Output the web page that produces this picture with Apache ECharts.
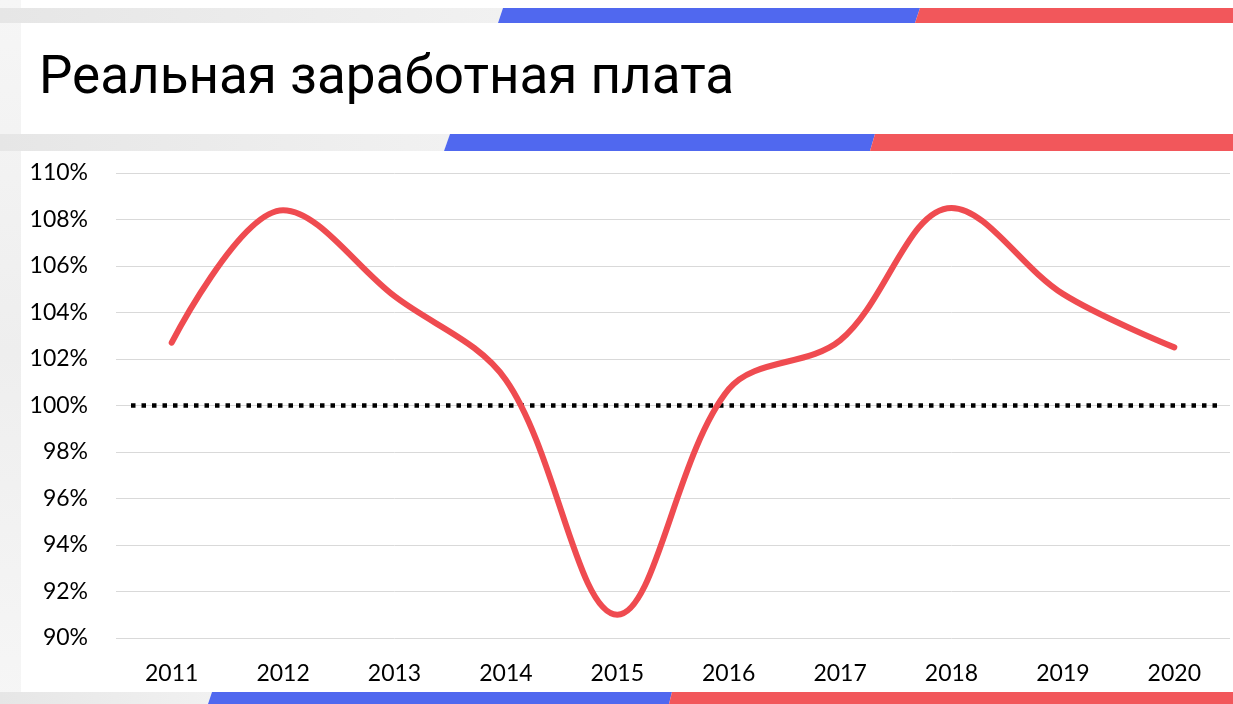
<!DOCTYPE html>
<html>
<head>
<meta charset="utf-8">
<script src="https://cdn.jsdelivr.net/npm/echarts@6/dist/echarts.min.js"></script>
<style>
  html, body { margin: 0; padding: 0; background: #fff; }
  #main { width: 1233px; height: 704px; }
</style>
</head>
<body>
<div id="main"></div>
<script>
// data
let years = ['2011', '2012', '2013', '2014', '2015', '2016', '2017', '2018', '2019', '2020']
let realWage = [102.7, 108.4, 104.7, 101.1, 91.0, 100.7, 102.8, 108.5, 104.8, 102.5]
let baseline = 100
let yMin = 90
let yMax = 110
let yStep = 2

let blue = '#5068ef'
let red = '#f2575b'
let grayStripe = {
  type: 'linear', x: 0, y: 0, x2: 1, y2: 0,
  colorStops: [{ offset: 0, color: '#e6e6e6' }, { offset: 1, color: '#f1f1f1' }]
}

// slanted stripe: y0..y1, blue from b (top) / b2 (bottom), red from r / r2
function stripe(y0, y1, b, b2, r, r2) {
  return [
    { type: 'polygon', shape: { points: [[0, y0], [b, y0], [b2, y1], [0, y1]] }, style: { fill: grayStripe }, silent: true },
    { type: 'polygon', shape: { points: [[b, y0], [r, y0], [r2, y1], [b2, y1]] }, style: { fill: blue }, silent: true },
    { type: 'polygon', shape: { points: [[r, y0], [1233, y0], [1233, y1], [r2, y1]] }, style: { fill: red }, silent: true }
  ]
}

let chart = echarts.init(document.getElementById('main'))

let option = {
  backgroundColor: '#ffffff',
  animation: false,
  title: {
    text: 'Реальная заработная плата',
    left: 34,
    top: 48,
    textStyle: {
      fontFamily: 'Roboto',
      fontSize: 53,
      fontWeight: 'normal',
      color: '#000'
    }
  },
  graphic: [
    {
      type: 'rect', z: -10, silent: true,
      shape: { x: 0, y: 0, width: 21, height: 704 },
      style: {
        fill: {
          type: 'linear', x: 0, y: 0, x2: 0, y2: 1,
          colorStops: [{ offset: 0, color: '#f6f6f6' }, { offset: 0.5, color: '#eeeeee' }, { offset: 1, color: '#f6f6f6' }]
        }
      }
    }
  ].concat(stripe(8, 23, 503, 498, 920, 915))
    .concat(stripe(134, 151, 450, 444, 875, 870))
    .concat(stripe(692, 704, 212, 208, 672, 669)),
  grid: [
    { left: 116, right: 3, top: 173, bottom: 66 },
    { left: 131, right: 15, top: 173, bottom: 66 }
  ],
  xAxis: [
    {
      type: 'category',
      gridIndex: 0,
      data: years,
      boundaryGap: true,
      axisLine: { show: false },
      axisTick: { show: false },
      axisLabel: {
        fontFamily: 'Lato',
        fontSize: 23,
        color: '#000',
        margin: 24
      }
    },
    { type: 'value', gridIndex: 1, min: 0, max: 1, show: false }
  ],
  yAxis: [
    {
      type: 'value',
      gridIndex: 0,
      min: yMin,
      max: yMax,
      interval: yStep,
      axisLine: { show: false },
      axisTick: { show: false },
      axisLabel: {
        formatter: '{value}%',
        fontFamily: 'Lato',
        fontSize: 23,
        color: '#000',
        margin: 28
      },
      splitLine: { lineStyle: { color: '#d9d9d9', width: 1 } }
    },
    { type: 'value', gridIndex: 1, min: yMin, max: yMax, show: false }
  ],
  series: [
    {
      name: 'base',
      type: 'line',
      xAxisIndex: 1,
      yAxisIndex: 1,
      data: [[0, baseline], [1, baseline]],
      symbol: 'none',
      z: 2,
      lineStyle: { color: '#000', width: 4.5, type: [4.5, 6], cap: 'butt' }
    },
    {
      name: 'wage',
      type: 'line',
      data: realWage,
      smooth: 0.35,
      symbol: 'none',
      z: 3,
      lineStyle: { color: '#ef4b50', width: 6, cap: 'round' }
    }
  ]
}

chart.setOption(option)
</script>
</body>
</html>
